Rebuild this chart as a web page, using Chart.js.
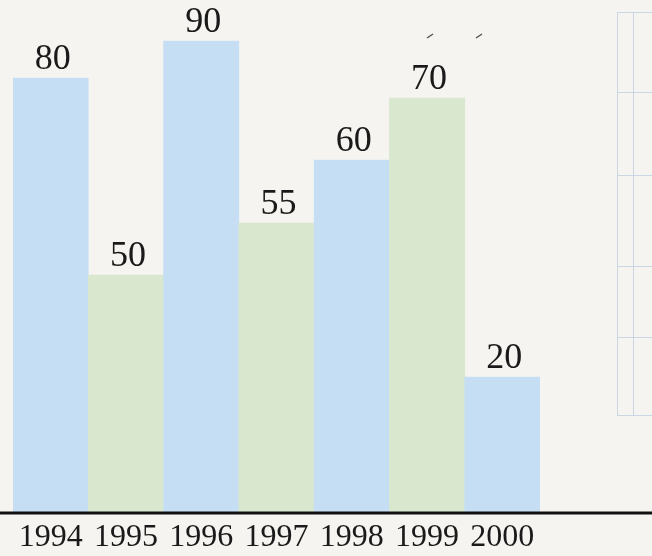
<!DOCTYPE html>
<html>
<head>
<meta charset="utf-8">
<script src="https://cdn.jsdelivr.net/npm/chart.js@4/dist/chart.umd.min.js"></script>
<style>
  html, body { margin: 0; padding: 0; background: #f6f4f0; }
  #wrap { width: 652px; height: 556px; position: relative; }
</style>
</head>
<body>
<div id="wrap"><canvas id="chart" width="652" height="556"></canvas></div>
<script>
const years = ['1994', '1995', '1996', '1997', '1998', '1999', '2000'];
// printed values above the bars
const printedValues = [80, 50, 90, 55, 60, 70, 20];
// bar heights as drawn in the picture (not to scale with the printed values)
const barHeights = [86.8, 47.4, 94.2, 57.8, 70.4, 82.8, 27];
const barColors = ['#c6def4', '#d9e7cf', '#c6def4', '#d9e7cf', '#c6def4', '#d9e7cf', '#c6def4'];

const serif = '"Liberation Serif", "DejaVu Serif", serif';

// baseline, value labels and the faint table on the right
const decor = {
    id: 'decor',
    beforeDraw(chart) {
        const c = chart.ctx;
        c.save();
        c.fillStyle = '#f6f4f0';
        c.fillRect(0, 0, chart.width, chart.height);
        // faint ruled box at the right edge
        c.strokeStyle = '#c9d6e4';
        c.lineWidth = 1;
        c.strokeRect(617.5, 12.5, 40, 403);
        c.beginPath();
        c.moveTo(633.5, 12); c.lineTo(633.5, 415);
        [92, 175, 266, 337].forEach(y => { c.moveTo(617, y + 0.5); c.lineTo(652, y + 0.5); });
        c.stroke();
        // small marks near the top
        c.strokeStyle = '#555';
        c.lineWidth = 1.5;
        c.beginPath();
        c.moveTo(427, 38); c.lineTo(433, 34);
        c.moveTo(476, 38); c.lineTo(482, 34);
        c.stroke();
        c.restore();
    },
    afterDatasetsDraw(chart) {
        const c = chart.ctx;
        const meta = chart.getDatasetMeta(0);
        const area = chart.chartArea;
        c.save();
        c.strokeStyle = '#111';
        c.lineWidth = 3;
        c.beginPath();
        c.moveTo(0, area.bottom + 1);
        c.lineTo(chart.width, area.bottom + 1);
        c.stroke();
        c.fillStyle = '#1a1a1a';
        c.font = '36px ' + serif;
        c.textAlign = 'center';
        c.textBaseline = 'alphabetic';
        meta.data.forEach((bar, i) => {
            c.fillText(String(printedValues[i]), bar.x + 2, bar.y - 9);
        });
        c.restore();
    }
};

new Chart(document.getElementById('chart').getContext('2d'), {
    type: 'bar',
    data: {
        labels: years,
        datasets: [{
            data: barHeights,
            backgroundColor: barColors,
            borderWidth: 0,
            barPercentage: 1,
            categoryPercentage: 1
        }]
    },
    options: {
        responsive: false,
        animation: false,
        layout: { padding: { left: 13, right: 112, top: 0, bottom: 0 } },
        plugins: { legend: { display: false }, tooltip: { enabled: false } },
        scales: {
            x: {
                grid: { display: false },
                border: { display: false },
                ticks: { color: '#1a1a1a', font: { family: serif, size: 32, lineHeight: 1 }, padding: 2, maxRotation: 0, autoSkip: false }
            },
            y: { display: false, min: 0, max: 102.4 }
        }
    },
    plugins: [decor]
});
</script>
</body>
</html>
